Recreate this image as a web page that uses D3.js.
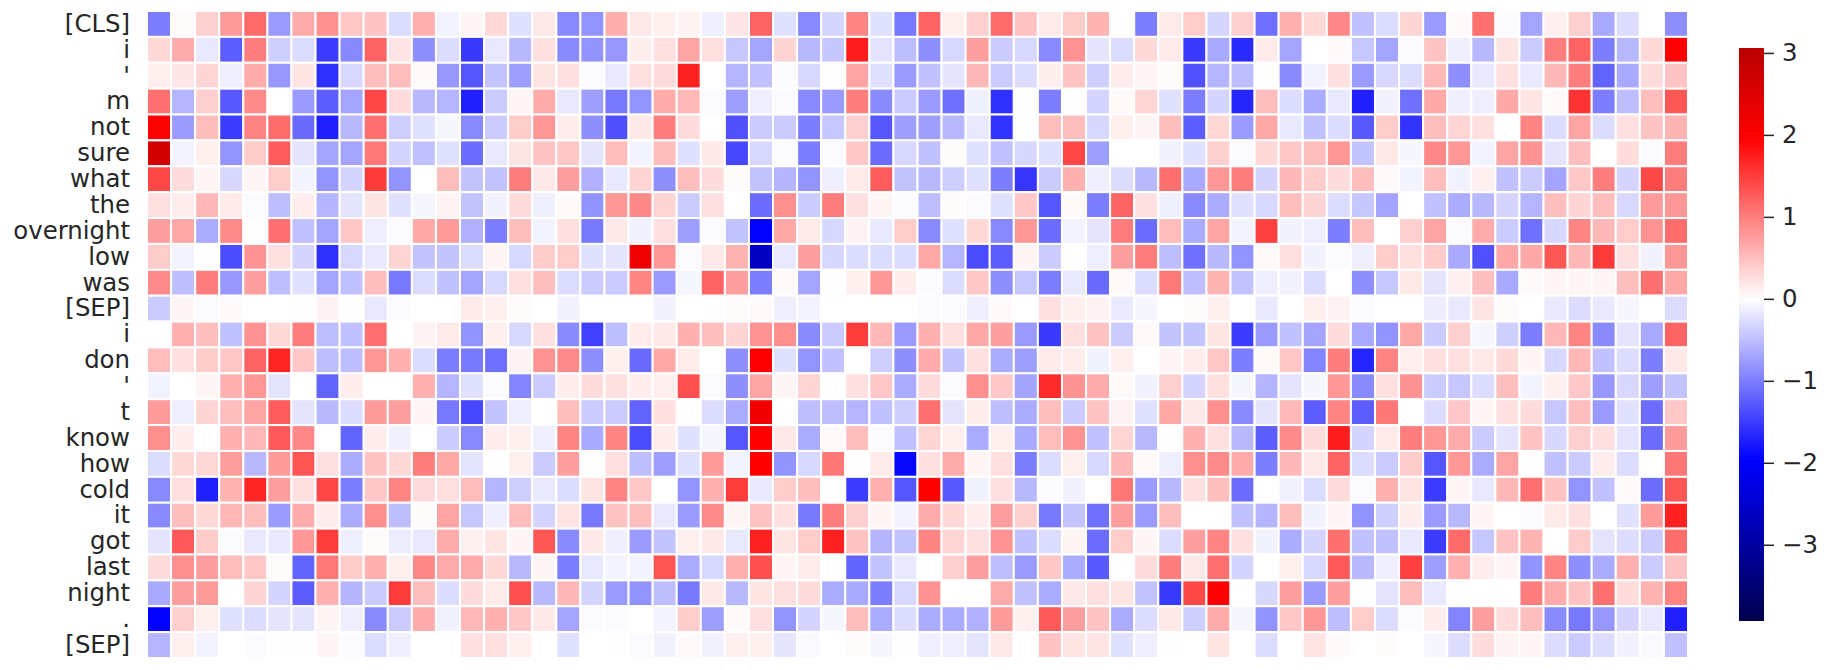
<!DOCTYPE html>
<html>
<head>
<meta charset="utf-8">
<script src="https://cdn.jsdelivr.net/npm/d3@7"></script>
<style>
  html, body { margin: 0; padding: 0; background: #fff; }
  text { font-family: "DejaVu Sans", sans-serif; fill: #262626; }
</style>
</head>
<body>
<div id="chart"></div>
<script>
// tokens on the y axis
const tokens = ["[CLS]", "i", "'", "m", "not", "sure", "what", "the", "overnight", "low", "was", "[SEP]",
  "i", "don", "'", "t", "know", "how", "cold", "it", "got", "last", "night", ".", "[SEP]"];

// attribution values, one row per token, 64 columns
const cells = [
  [-1,.03,.37,.78,1.15,-.77,.65,.85,.43,.46,-.27,.6,-.09,.08,.29,-.24,.18,-.92,-.83,.63,.18,.12,.1,-.12,.2,1.2,-.24,-.92,-.32,.95,-.24,-1.05,1.2,.12,.37,1.13,.46,.16,.4,.58,0,-1,.16,.4,-.32,.37,-1.1,.6,.3,.92,-.48,-.27,.33,-.77,.05,1.1,-.04,-.7,.12,.37,-.66,-.27,0,-.87],
  [.3,.65,-.18,-1.25,1,-.37,-.27,-1.5,-.92,1.2,.2,-.87,-.27,-1.52,-.18,-.55,.25,-.9,-.83,-.8,.13,.25,.7,.25,-.43,-.7,.33,-.55,-.43,1.75,-.21,-.5,-.87,-.3,.75,-.4,-.3,-.92,.83,-.2,-.27,.3,.16,-1.52,-.66,-1.63,.16,-.7,0,.05,-.43,-.7,-.03,.46,-.13,-.55,.21,-.4,1,1.2,-1,-.55,.3,1.97],
  [.12,.2,.33,-.12,.65,-.8,.21,-1.6,-.3,.5,.52,.05,-.8,-1.3,-.46,-.75,.21,.25,-.03,-.18,.25,.27,1.72,0,-.58,-.48,-.04,-.3,0,.7,-.24,-.78,-.48,-.21,.55,-.4,-.27,.13,.46,-.37,.14,.08,.03,-1.35,-.58,-.5,0,-.9,-.09,.25,-.77,-.3,-.27,.55,-.87,-.18,.25,-.16,.55,1,-1.2,-.66,.27,.46],
  [1.1,-.58,.37,-1.28,.9,0,-.77,-1.25,-.7,1.42,.27,-.55,-.58,-1.72,-.4,.08,.65,-.18,-.75,-1.05,-.83,.65,.55,-.04,-.75,-.13,-.04,-.92,-.77,1,-.9,-.4,-.77,-1.1,-.12,-1.6,0,-1,0,-.33,.05,.33,-.24,-1,-.33,-1.67,.5,-.27,-.65,-.18,-1.72,-.1,-1.1,.67,-.13,-.13,.67,.21,.05,1.57,-1,-.5,.5,1.3],
  [1.97,-.77,.52,-1.5,.95,1.13,-1.15,-1.72,-.55,1.1,-.37,-.24,-.07,-.9,-.4,.4,.8,.14,-.87,-1.35,.18,1,.27,0,-1.35,-.4,-.4,-1,-.43,.37,-1.3,-.75,-.75,-.55,-.18,-1.57,0,.5,.5,-.3,.12,.08,.5,-1.25,.3,-.77,.67,-.18,-.48,-.27,-1.28,.4,-1.57,.5,.33,.25,0,.95,-.27,.7,-.27,.25,.46,.58],
  [2.65,-.09,.12,-.83,.4,1.25,-.21,-.7,-.7,1.03,-.33,-.48,-.24,-1.13,-.18,.21,.46,.43,-.21,.52,-.09,.5,-.24,.18,-1.42,-.3,-.04,-1,-.04,.43,-1.13,-.3,-.48,.03,-.24,-.48,-.3,-.24,1.42,-.75,0,0,-.1,-.24,.37,-.04,.3,.43,.5,.8,-.46,.18,-.07,.92,.8,-.09,.7,.83,-.21,.5,0,.27,-.04,1],
  [1.42,.27,.08,-.3,.08,.4,-.09,-.83,-.33,1.52,-.83,0,.5,-.46,-.46,1,.18,.75,-.6,-.18,.33,-.87,.5,.27,.03,-.46,-.58,-.83,-.13,.16,1.25,-.46,-.55,-.37,-.24,-1,-1.55,-.4,.6,-.12,-.27,-.55,1.1,-.66,.8,1,-.33,.55,.4,.27,.5,.05,-.09,.5,-.1,.12,-.48,-.4,-.7,.43,1,-.33,1.4,1],
  [.25,.14,.55,.16,-.04,-.5,.14,-.58,-.21,.21,-.24,-.07,.1,-.46,-.1,.27,-.12,.05,-.83,.8,.92,.33,-.4,.25,0,-1.13,.87,-.4,1,.25,.08,-.02,-.5,.03,-.03,-.24,.43,-1.3,.05,-1,1.2,.25,-.12,-.92,-.65,-.24,-.3,.5,.33,-.27,-.43,-.7,0,-.48,-.65,-.55,-.33,-.58,.5,.33,.5,-.3,.77,.8],
  [.75,.67,-.65,.9,0,1.1,-.48,-.7,.43,-.13,-.03,.67,.77,-.6,-1,.5,-.09,.25,-1.03,.18,-.1,.25,-.75,-.02,-.46,-1.97,.67,.16,-.3,.1,-.18,.4,-.9,-.24,.3,-.92,.8,-1.13,-.09,-.21,1,-1.13,.52,-.65,.7,-.09,1.47,-.1,-.13,-1,.5,0,.37,.7,-.04,.65,-.4,-1.1,-.3,.95,.55,.4,.83,1.13],
  [.4,-.09,0,-1.38,.83,.25,-.33,-1.6,-.3,-.18,.33,-.46,-.46,-.27,.08,-.3,.4,.4,-.24,-.21,2.2,.8,-.04,.18,.58,-2.62,-.18,.75,-.3,-.27,-.27,-.27,.67,-.58,-1.38,-1.25,.08,-.4,0,-.13,.75,1,-.5,-1.1,-.55,-.83,.05,.25,-.1,-.04,-.13,.4,.25,.4,-.66,-1.35,.67,.67,1.3,.55,1.52,.25,-.1,.8],
  [.9,-.5,1,-.8,.75,-.5,-.24,-.7,-.48,.5,-1.03,-.27,-.48,-.7,-.3,.25,.5,-.27,-.4,-.4,.95,-.77,-.07,1.2,.75,-1,.05,-.7,0,.12,.8,.14,-.03,-.27,.43,-.87,-.43,-1,-.18,-1.15,.05,-.27,1.03,-.5,.58,-.46,-.13,-.1,-.27,0,-.87,-.43,.18,-.21,.12,.5,-.66,.05,.08,.08,.08,.5,1.1,.67],
  [-.4,.08,-.04,.05,0,0,.01,.1,-.01,-.18,-.04,0,0,.16,.12,.03,0,-.1,0,0,0,-.1,0,-.01,.03,.05,-.13,-.09,0,0,0,0,-.03,-.03,-.12,.05,0,.25,.12,.1,-.16,-.07,0,.03,.12,0,-.18,0,.12,.1,-.03,0,0,-.14,-.18,.21,.03,0,-.18,-.27,-.18,-.07,0,-.27],
  [0,.6,.5,-.48,.83,.3,1,-.5,-.48,1.1,0,.1,.16,-.83,.12,-.3,.25,-.9,-1.47,-.5,.14,.18,.6,.5,.33,.83,.87,-.9,-.4,1.5,.55,-.77,.6,.25,.67,.75,-.77,-1.52,.25,.46,-.4,.05,-.46,-.46,.21,-1.5,-.77,-.48,-.7,.27,-.66,-.83,.67,-.4,.37,-.07,-.37,-1,.55,.95,-.9,-.21,-.66,1.2],
  [.52,.25,.4,.43,1.2,1.68,.43,-.5,-.5,.8,.6,-.27,-1,-1.03,-1.1,.1,.83,.9,-.87,.12,-1.15,.67,.14,0,-.87,2.05,-.24,-.83,-.48,0,-.37,-.87,.65,-.46,.25,-.65,-.75,.16,.14,-.1,.12,0,.08,.14,.43,-1,.05,.43,-.95,1,-1.68,.95,.12,.25,.25,.18,.3,.08,-.3,.55,-.48,-.27,-1,.18],
  [-.09,0,.08,.6,.8,-.21,0,-1.2,.14,0,0,.6,-.58,-.24,-.04,-.95,-.4,.14,.27,.25,.14,.12,1.35,-.04,-.87,.7,.08,.33,0,.25,.43,-.65,.27,-.03,.87,.43,-.7,1.63,.83,.65,.05,-.1,.37,-.33,.25,-.07,-.58,-.21,-.07,.8,-.9,.25,.83,-.4,-.43,-.27,.5,-.09,.12,.43,-.8,-.3,-.75,-.46],
  [.77,-.13,.33,.5,.7,1.25,-.21,-.55,-.27,.77,.75,.08,-1.05,-1.42,-.46,-.13,0,.5,-.4,-.4,-1.2,.25,0,-.27,-.65,2.2,0,-.5,-.5,-.58,-.48,-.37,1.1,-.21,.14,-.5,-.65,.5,-.4,.46,.1,-.24,.67,.18,.87,-.9,-.21,.55,-1.25,.95,-1.25,1.05,0,-.27,.43,.08,.25,.27,-.43,.5,-.77,-.24,-1.13,.43],
  [.87,.15,0,.6,.55,1.28,.92,0,-1.2,.14,-.1,0,-.4,-.92,.15,.12,-.12,.95,-.66,.95,-1.38,.15,-.24,-.07,-1.3,1.97,.18,-.65,.05,.5,-.04,-.48,.33,.12,-.65,.12,-.66,.52,.83,-.48,.33,-.55,0,.6,.25,-.55,-1.25,.9,.27,1.75,-.33,.16,1,.8,.65,-.4,-.21,.46,-.3,.37,.25,-.21,-1.13,.77],
  [-.27,.3,.3,.75,-.55,.77,1.32,.25,-.65,.46,.3,1,.67,-.21,0,.12,-.4,.75,0,.25,-.5,-.75,-.24,.77,-.09,1.97,-.83,-.3,1.05,0,.16,-1.9,.25,.65,.08,.25,-1,-.27,.12,-.3,.55,.05,-.13,.87,.9,.65,-1,.55,.18,1.2,-.27,-.4,.4,-1.3,.8,-.65,.7,0,-.48,-.4,.15,-.27,0,1.05],
  [-.92,.25,-1.72,.58,1.68,.75,.25,1.42,-1,.43,.95,.27,.25,.52,-.58,-.37,-.18,-.27,.21,.95,.43,0,-.83,.6,1.5,-.18,.4,.5,0,-1.5,.6,-1.3,1.97,-1.28,-.1,.25,-.55,-.03,-.1,0,1.05,-.77,-.55,.25,.5,-1.13,0,-.1,-.27,.27,-.03,.6,.21,-1.5,.08,-.18,.55,1.1,.46,-.83,-.48,.05,-1.13,1.3],
  [-.92,.5,.3,.55,.5,-.77,.65,.15,-.65,.87,-.5,.03,.7,-.43,-.12,.52,-.33,.21,-1.03,.46,.5,-.18,-.77,.9,.08,.46,.25,-1.03,1,.37,.08,-.09,.65,.3,.14,.75,.37,-1.05,-.46,-1.1,.75,-.77,.5,0,0,-.48,-.58,.5,-.1,.08,-.83,-.37,.14,-.77,-.55,.08,0,-.03,.16,.25,0,-.24,.77,1.72],
  [-.21,1.28,.4,-.04,-.18,-.18,.8,1.5,-.13,.03,-.15,-.18,.65,.12,.21,.08,1.3,-.9,.18,-.13,-.77,-.46,.12,.18,-.18,1.72,.21,.4,1.72,.46,-.58,-.46,.95,.33,.25,.83,-.48,-.27,.08,-1.13,.4,.08,-.27,.75,.95,.25,-.1,-.65,-.33,1.1,-.48,-.48,-.18,-1.5,1.15,-.43,.46,.58,0,.4,-.21,-.27,-.4,1.13],
  [.27,.87,.75,.52,.43,.03,-1.2,1.05,.4,.6,.12,.92,.65,.65,.3,-.55,.08,-1,-.18,-.09,-.09,1.32,-.65,-.3,.6,1.35,.08,.15,0,-1.2,-.46,-.18,0,.37,.75,-.5,-.77,.43,-.65,-1.28,0,.27,1,.18,1.1,-.33,0,.12,-.3,1.28,-.55,-.12,1.47,-.75,.6,.14,.08,-.83,.95,-.87,-.65,.6,-.4,.46],
  [-.66,.75,.77,0,.33,-.33,-1.25,.6,-.58,-.4,1.5,.5,-.27,.27,.16,1.35,-.55,.55,-.33,-.77,-.83,-.5,-1.03,.18,-.55,.21,.25,.27,-.65,-.66,-1,-.3,.83,0,0,.65,-.48,-.65,.18,.25,.21,-.46,-1.52,1.4,1.97,0,-.3,.75,-.77,.75,0,-.21,.52,-.18,0,0,0,1,.65,.46,1.1,.27,.58,.95],
  [-1.97,.37,.12,-.24,-.27,-.21,-.21,.08,-.13,-.9,-.4,.65,-.1,.55,.6,.43,.18,-.7,-.04,-.04,0,-.09,.4,-.75,.05,.25,-.83,-.33,-.07,.5,-.65,-.27,-.65,-.65,-.6,.77,.12,1.28,.75,.46,-.65,-.27,.18,-.37,.65,-.07,-.83,.43,.8,-.5,.4,-.27,-.03,.15,-.95,.75,.27,.5,-.9,-1.05,-.8,-.33,-.18,-1.72],
  [-.58,.12,-.09,0,-.04,-.01,-.01,.08,-.04,-.27,-.12,0,0,.25,.25,.12,0,-.24,0,-.01,-.04,-.1,.05,-.1,.12,.12,-.21,-.05,0,.03,-.07,-.01,-.13,-.13,-.21,.18,0,.46,.21,.21,-.24,-.13,-.01,0,.21,0,-.27,0,.21,.05,0,.03,0,-.07,-.27,.27,.1,.08,-.27,-.4,-.27,-.1,-.05,-.48]
];

// colorbar ticks and its value range
const colorbarTicks = [-3, -2, -1, 0, 1, 2, 3];
const valueMin = -3.93;
const valueMax = 3.06;

// Set up the dimensions
const width = 1831;
const height = 670;
const margin = { top: 11, right: 143, bottom: 12, left: 147 };
const barX = 1739, barWidth = 25, barTop = 48, barBottom = 621;

const svg = d3.select("#chart")
  .append("svg")
  .attr("width", width)
  .attr("height", height)
  .style("display", "block");

const x = d3.scaleBand()
  .domain(d3.range(cells[0].length))
  .range([margin.left, width - margin.right]);

const y = d3.scaleBand()
  .domain(d3.range(tokens.length))
  .range([margin.top, height - margin.bottom]);

// seismic colormap centred at 0
const color = d3.scaleLinear()
  .domain([-3.93, -1.965, 0, 1.965, 3.93])
  .range(["#00004d", "#0000ff", "#ffffff", "#ff0000", "#800000"])
  .clamp(true);

// Draw the cells
const rows = svg.selectAll(".row")
  .data(cells)
  .join("g")
  .attr("class", "row")
  .attr("transform", (d, i) => `translate(0,${y(i)})`);

rows.selectAll("rect")
  .data(d => d)
  .join("rect")
  .attr("x", (d, i) => x(i))
  .attr("width", x.bandwidth())
  .attr("height", y.bandwidth())
  .attr("fill", d => color(d))
  .attr("stroke", "white")
  .attr("stroke-width", 2);

// token labels
const yAxis = svg.append("g")
  .attr("transform", `translate(${margin.left - 17},0)`)
  .call(d3.axisLeft(y).tickSize(0).tickPadding(0).tickFormat(i => tokens[i]));
yAxis.select(".domain").remove();
yAxis.selectAll("text").style("font-size", "24.4px").style("fill", "#262626");

// Colorbar
const barScale = d3.scaleLinear()
  .domain([valueMin, valueMax])
  .range([barBottom, barTop]);

const defs = svg.append("defs");
const gradient = defs.append("linearGradient")
  .attr("id", "barGradient")
  .attr("x1", 0).attr("x2", 0).attr("y1", 1).attr("y2", 0);

gradient.selectAll("stop")
  .data(d3.range(0, 1.001, 0.02))
  .join("stop")
  .attr("offset", d => d)
  .attr("stop-color", d => color(valueMin + d * (valueMax - valueMin)));

svg.append("rect")
  .attr("x", barX)
  .attr("y", barTop)
  .attr("width", barWidth)
  .attr("height", barBottom - barTop)
  .attr("fill", "url(#barGradient)");

const barAxis = svg.append("g")
  .attr("transform", `translate(${barX + barWidth},0)`)
  .call(d3.axisRight(barScale).tickValues(colorbarTicks).tickSize(10).tickPadding(8).tickFormat(d3.format("")));
barAxis.select(".domain").remove();
barAxis.selectAll("line").attr("stroke", "#262626").attr("stroke-width", 1.5);
barAxis.selectAll("text").style("font-size", "24.4px").style("fill", "#262626");
</script>
</body>
</html>
